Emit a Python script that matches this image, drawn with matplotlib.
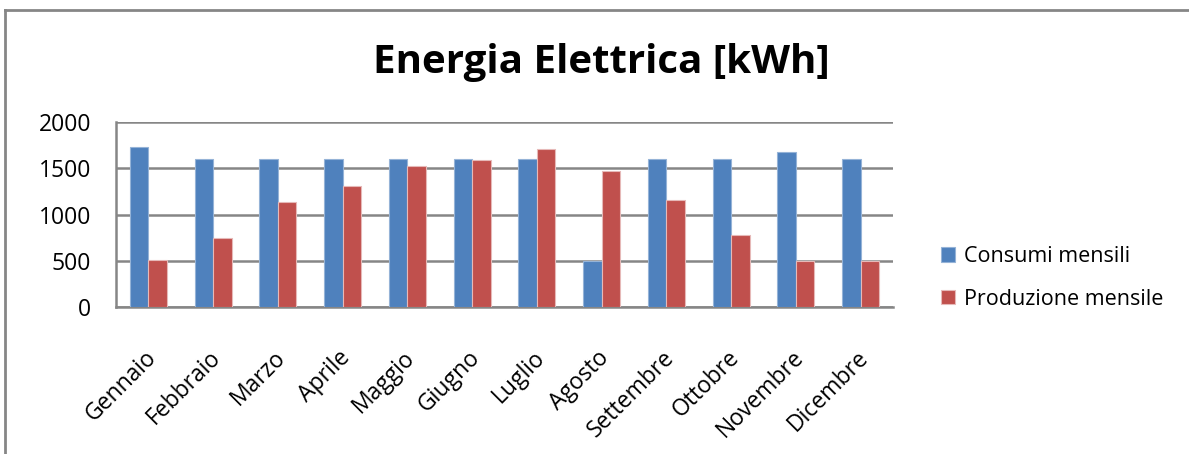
import numpy as np
import matplotlib.pyplot as plt
from matplotlib.lines import Line2D
from matplotlib.transforms import ScaledTranslation

mesi = ["Gennaio", "Febbraio", "Marzo", "Aprile", "Maggio", "Giugno",
        "Luglio", "Agosto", "Settembre", "Ottobre", "Novembre", "Dicembre"]
consumi = [1730, 1600, 1600, 1600, 1600, 1600, 1600, 500, 1600, 1600, 1675, 1600]
produzione = [510, 745, 1140, 1305, 1520, 1590, 1710, 1465, 1160, 780, 500, 500]
yticks = [0, 500, 1000, 1500, 2000]

plt.rcParams['font.family'] = ['Open Sans', 'DejaVu Sans']

fig = plt.figure(figsize=(11.89, 4.54), dpi=100)
ax = fig.add_axes([116/1189, 1-307/454, (893-116)/1189, (307-122)/454])

x = np.arange(len(mesi))
w = 0.286
ax.bar(x - w/2, consumi, w, color='#4F81BD', edgecolor='#95B3D7', linewidth=0.8,
       label='Consumi mensili', zorder=3)
ax.bar(x + w/2, produzione, w, color='#C0504D', edgecolor='#E6B9B8', linewidth=0.8,
       label='Produzione mensile', zorder=3)

ax.set_xlim(-0.5, len(mesi) - 0.5)
ax.set_ylim(0, 2000)
ax.set_yticks(yticks)
ax.set_yticklabels([str(v) for v in yticks], fontsize=16.5)
ax.yaxis.grid(True, color='#868686', linewidth=1.8, zorder=0)
ax.set_xticks(x)
ax.set_xticklabels(mesi, rotation=45, ha='right', rotation_mode='anchor', fontsize=16.5)
ax.tick_params(axis='y', length=0, pad=18)
ax.tick_params(axis='x', length=0, pad=16)
# shift month labels a little, like excel does
off = ScaledTranslation(-3/72, -12/72, fig.dpi_scale_trans)
for lab in ax.get_xticklabels():
    lab.set_transform(lab.get_transform() + off)
for s in ['top', 'right']:
    ax.spines[s].set_visible(False)
for s in ['left', 'bottom']:
    ax.spines[s].set_color('#868686')
    ax.spines[s].set_linewidth(1.8)

fig.text(0.506, 1-63/454, 'Energia Elettrica [kWh]', ha='center', va='center',
         fontsize=29, fontweight='bold')

fig.legend(loc='center left', bbox_to_anchor=(922/1189, 1-278/454), frameon=False,
           fontsize=15.5, handlelength=0.65, handleheight=0.65, handletextpad=0.4,
           labelspacing=1.0)

# chart border (only top and left visible in the crop)
fig.add_artist(Line2D([5/1189, 1], [1-10/454, 1-10/454], color='#868686', linewidth=2))
fig.add_artist(Line2D([5/1189, 5/1189], [0, 1-10/454], color='#868686', linewidth=2))

fig.savefig('out.png', dpi=100)
